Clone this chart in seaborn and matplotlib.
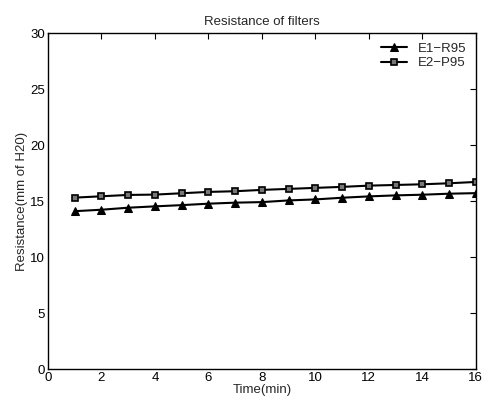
import numpy as np
import pandas as pd
import matplotlib
matplotlib.use("Agg")
import matplotlib.pyplot as plt
import seaborn as sns

# data
time_min = list(range(1, 17))
e1_r95 = [14.10, 14.23, 14.41, 14.53, 14.64, 14.77, 14.86, 14.91,
          15.06, 15.15, 15.30, 15.42, 15.51, 15.57, 15.66, 15.71]
e2_p95 = [15.31, 15.43, 15.55, 15.58, 15.70, 15.82, 15.88, 16.00,
          16.09, 16.18, 16.27, 16.38, 16.44, 16.50, 16.59, 16.71]

df = pd.DataFrame({"time": time_min, "E1\u2212R95": e1_r95, "E2\u2212P95": e2_p95})

sns.set_theme(style="white")
plt.rcParams["font.family"] = ["Liberation Sans", "DejaVu Sans"]

fig = plt.figure(figsize=(4.85, 4.03), dpi=100)
ax = fig.add_axes([0.099, 0.084, 0.882, 0.834])

sns.lineplot(data=df, x="time", y="E1\u2212R95", ax=ax, color="black", lw=1.5,
             marker="^", markersize=6, markerfacecolor="black",
             markeredgecolor="black", label="E1\u2212R95")
sns.lineplot(data=df, x="time", y="E2\u2212P95", ax=ax, color="black", lw=1.5,
             marker="s", markersize=5, markerfacecolor="#777777",
             markeredgecolor="black", markeredgewidth=1.2, label="E2\u2212P95")

ax.set_xlim(0, 16)
ax.set_ylim(0, 30)
ax.set_xticks(np.arange(0, 17, 2))
ax.set_yticks(np.arange(0, 31, 5))
ax.tick_params(direction="in", length=4, width=0.8, top=True, right=True,
               labelsize=9.5, pad=2, colors="black")
for s in ax.spines.values():
    s.set_color("black")
    s.set_linewidth(1.0)

ax.set_title("Resistance of filters", fontsize=9.5, pad=6)
ax.set_xlabel("Time(min)", fontsize=9.5, labelpad=0)
ax.set_ylabel("Resistance(mm of H20)", fontsize=9.5, labelpad=2)

ax.legend(loc="upper right", frameon=False, fontsize=9.5, handlelength=2.0,
          borderaxespad=0.3, labelspacing=0.2)

fig.savefig("out.png", dpi=100)
